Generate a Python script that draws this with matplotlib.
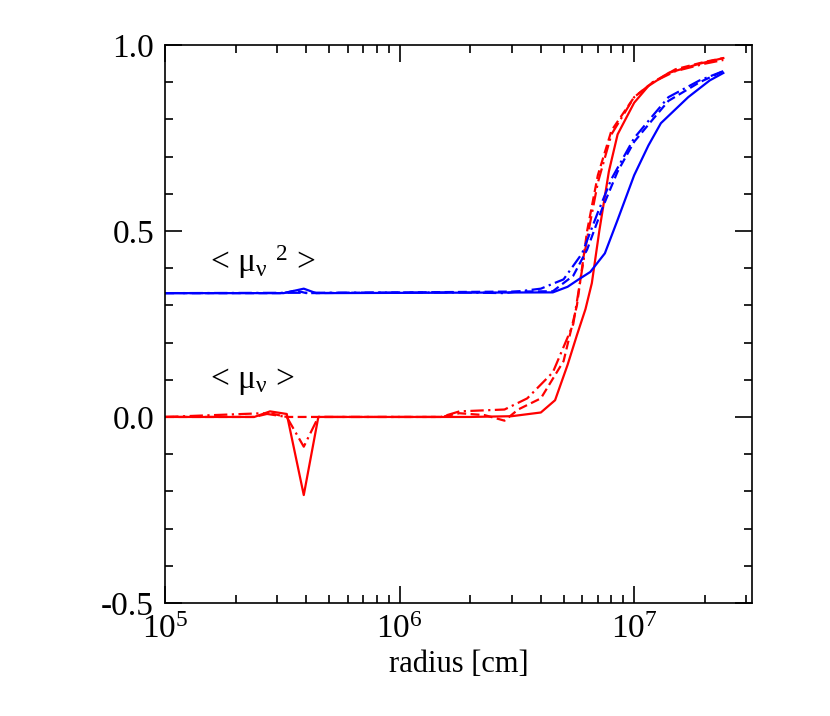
import matplotlib
matplotlib.use("Agg")
import matplotlib.pyplot as plt
from matplotlib.ticker import MultipleLocator, LogLocator, NullFormatter

plt.rcParams["font.family"] = "Liberation Serif"
plt.rcParams["mathtext.fontset"] = "stix"
plt.rcParams["mathtext.default"] = "regular"

# <mu> (red)
r_mu_solid = [1e5, 2.4e5, 2.8e5, 3.3e5, 3.9e5, 4.5e5, 2e6, 3e6, 4e6, 4.6e6, 5.2e6, 5.7e6, 6.2e6, 6.6e6, 7.1e6, 7.8e6, 8.5e6, 1e7, 1.15e7, 1.4e7, 1.9e7, 2.4e7]
mu_solid = [0, 0, 0.015, 0.008, -0.21, 0, 0, 0.002, 0.012, 0.045, 0.14, 0.22, 0.29, 0.36, 0.5, 0.66, 0.76, 0.845, 0.89, 0.925, 0.95, 0.965]
r_mu_dash = [1e5, 2.4e5, 2.8e5, 3.3e5, 1.5e6, 1.8e6, 2.3e6, 2.8e6, 3.2e6, 4e6, 5e6, 5.7e6, 6.3e6, 7e6, 8e6, 1e7, 1.2e7, 1.5e7, 2e7, 2.4e7]
mu_dash = [0, 0, 0.01, 0, 0, 0.01, 0.005, -0.01, 0.02, 0.05, 0.15, 0.3, 0.5, 0.65, 0.77, 0.86, 0.9, 0.935, 0.955, 0.965]
r_mu_dd = [1e5, 2.6e5, 3.3e5, 3.9e5, 4.5e5, 1.5e6, 1.8e6, 2.8e6, 3.5e6, 4.5e6, 5.5e6, 6.3e6, 7e6, 8e6, 1e7, 1.2e7, 1.5e7, 2e7, 2.4e7]
mu_dd = [0, 0.01, 0.0, -0.08, 0, 0, 0.015, 0.02, 0.05, 0.12, 0.25, 0.48, 0.63, 0.76, 0.86, 0.9, 0.93, 0.95, 0.96]

# <mu^2> (blue)
r_mu2_solid = [1e5, 3.2e5, 3.9e5, 4.4e5, 4.5e6, 5.2e6, 5.8e6, 6.5e6, 7.5e6, 8.5e6, 1e7, 1.15e7, 1.3e7, 1.7e7, 2.1e7, 2.4e7]
mu2_solid = [0.333, 0.333, 0.345, 0.333, 0.335, 0.35, 0.37, 0.39, 0.44, 0.53, 0.65, 0.73, 0.79, 0.86, 0.905, 0.925]
r_mu2_dash = [1e5, 3.2e5, 3.6e5, 4e5, 4.5e6, 5.5e6, 6.3e6, 7.3e6, 8.5e6, 1e7, 1.2e7, 1.4e7, 1.9e7, 2.4e7]
mu2_dash = [0.333, 0.333, 0.34, 0.333, 0.338, 0.38, 0.45, 0.56, 0.66, 0.74, 0.8, 0.85, 0.9, 0.93]
r_mu2_dd = [1e5, 1.8e6, 2.8e6, 4e6, 5e6, 6e6, 7e6, 8e6, 1e7, 1.2e7, 1.4e7, 1.9e7, 2.4e7]
mu2_dd = [0.333, 0.335, 0.333, 0.345, 0.37, 0.44, 0.55, 0.64, 0.75, 0.81, 0.86, 0.905, 0.93]

fig = plt.figure(figsize=(8.3, 7.16), dpi=100)
ax = fig.add_axes([0.199, 0.158, 0.707, 0.779])
red, blue = "#ff0000", "#0000ff"
lw = 1.6
ax.plot(r_mu_solid, mu_solid, color=red, lw=lw)
ax.plot(r_mu_dash, mu_dash, color=red, lw=lw, ls=(0, (4, 2)))
ax.plot(r_mu_dd, mu_dd, color=red, lw=lw, ls=(0, (6, 2, 1, 2)))
ax.plot(r_mu2_solid, mu2_solid, color=blue, lw=lw)
ax.plot(r_mu2_dash, mu2_dash, color=blue, lw=lw, ls=(0, (4, 2)))
ax.plot(r_mu2_dd, mu2_dd, color=blue, lw=lw, ls=(0, (6, 2, 1, 2)))

ax.set_xscale("log")
ax.set_xlim(1e5, 3.18e7)
ax.set_ylim(-0.5, 1.0)
ax.yaxis.set_major_locator(MultipleLocator(0.5))
ax.yaxis.set_minor_locator(MultipleLocator(0.1))
ax.yaxis.set_major_formatter(matplotlib.ticker.FuncFormatter(lambda v, p: f"{v:.1f}"))
ax.xaxis.set_minor_locator(LogLocator(base=10, subs=range(2, 10)))
ax.xaxis.set_minor_formatter(NullFormatter())
ax.tick_params(which="both", direction="in", top=True, right=True, labelsize=24, width=1.2)
ax.tick_params(which="major", length=12, pad=8)
ax.tick_params(which="minor", length=6)
for s in ax.spines.values():
    s.set_linewidth(1.2)
ax.set_xlabel("radius [cm]", fontsize=22)

ax.text(1.55e5, 0.415, r"< $\mu_\nu$ $^2$ >", fontsize=24, va="center")
ax.text(1.55e5, 0.095, r"< $\mu_\nu$ >", fontsize=24, va="center")

fig.savefig("out.png", dpi=100)
